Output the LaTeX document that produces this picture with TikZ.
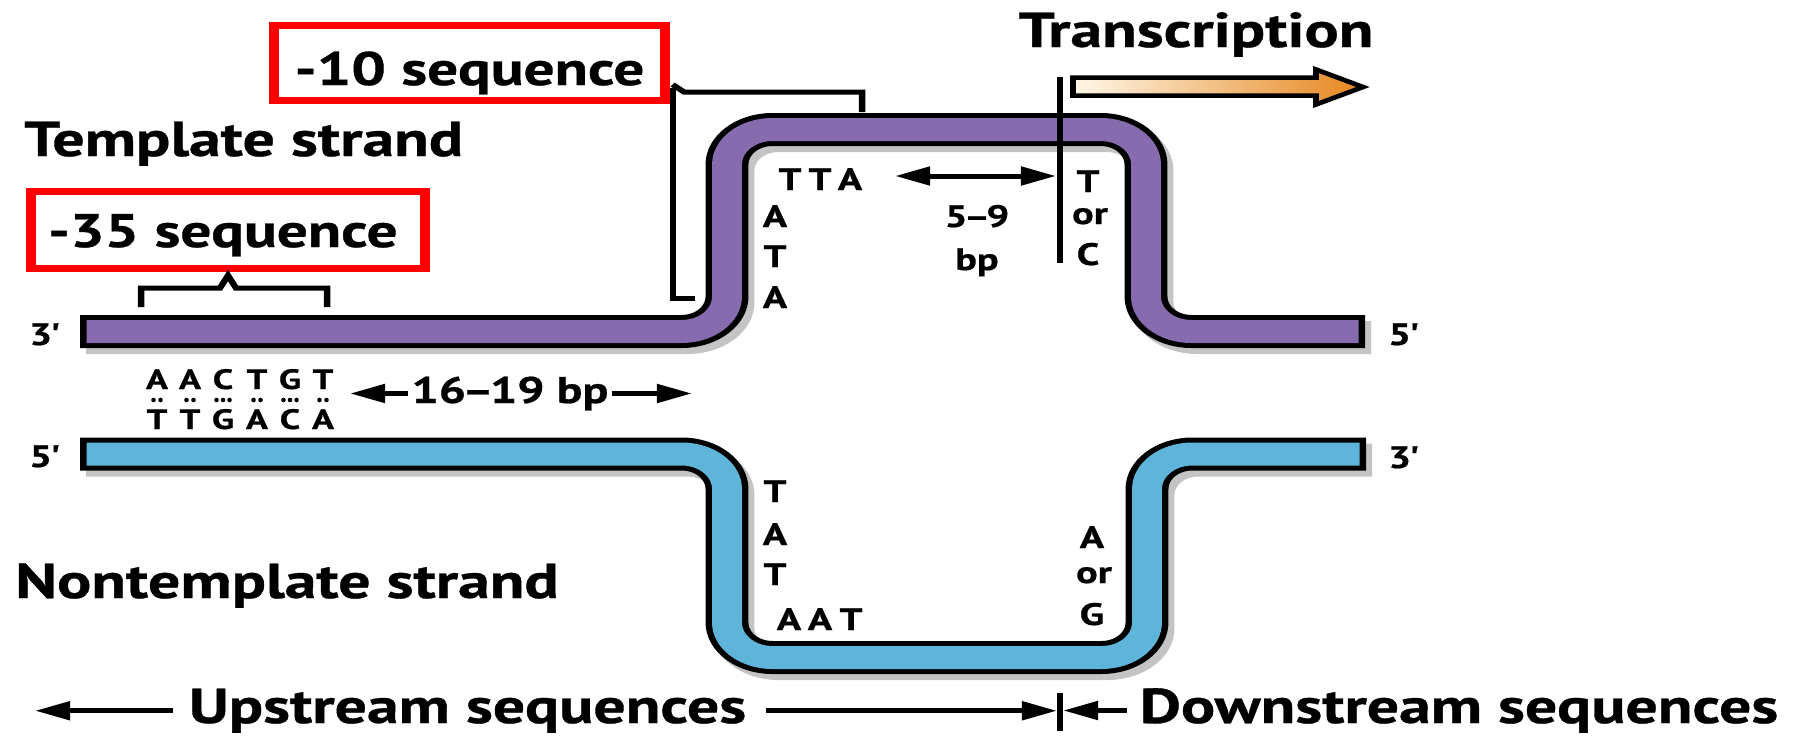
\documentclass[tikz,border=0pt]{standalone}
\usepackage{fontspec}
\setmainfont{PT Sans}[BoldFeatures={FakeBold=0.6}]
\usetikzlibrary{arrows.meta,calc}
\definecolor{strandpurple}{RGB}{134,107,174}
\definecolor{strandblue}{RGB}{94,181,217}
\definecolor{shadowgray}{RGB}{196,196,196}
\definecolor{arroworange}{RGB}{230,134,30}
\definecolor{arrowcream}{RGB}{255,247,232}
\definecolor{boxred}{RGB}{255,0,0}
\tikzset{
  lbl/.style={inner sep=0pt, font=\bfseries\fontsize{#1}{#1}\selectfont},
  headtext/.style={lbl=49},
  boxtext/.style={lbl=47},
  basetext/.style={lbl=31},
  pairtext/.style={lbl=28},
  redbox/.style={draw=boxred, line width=7pt, inner sep=0pt},
  bandshadow/.style={draw=shadowgray, line width=33pt, rounded corners=35pt},
  bandedge/.style={draw=black, line width=33pt, rounded corners=35pt},
  bandfill/.style={draw=#1, line width=23pt, rounded corners=35pt, shorten <=5pt, shorten >=5pt},
  bracketline/.style={draw=black, line width=5pt, line join=miter},
  pointer/.style={draw=black, line width=5pt, -{Triangle[length=27pt,width=18pt]}},
  twoway/.style={draw=black, line width=5pt, {Triangle[length=27pt,width=18pt]}-{Triangle[length=27pt,width=18pt]}},
}
\newcommand\ndash{\kern-3pt--\kern-3pt}
\newcommand\prm{\kern-1.5pt\textquotesingle}
\begin{document}
\begin{tikzpicture}[x=1pt,y=-1pt]
\fill[white] (0,0) rectangle (1794,736);
\useasboundingbox (0,0) rectangle (1794,736);
\begin{scope}[transform canvas={xscale=1.3}, xscale=0.769231]
% ---------- strands ----------
\draw[bandshadow] (86,337.5) -- (733,337.5) -- (733,135.5) -- (1152,135.5) -- (1152,337.5) -- (1371,337.5);
\draw[bandshadow] (86,460) -- (733,460) -- (733,663.5) -- (1153,663.5) -- (1153,460) -- (1372,460);
\draw[bandedge] (80,331.5) -- (727,331.5) -- (727,129.5) -- (1146,129.5) -- (1146,331.5) -- (1365,331.5);
\draw[bandedge] (80,454) -- (727,454) -- (727,657.5) -- (1147,657.5) -- (1147,454) -- (1366,454);
\draw[bandfill=strandpurple] (80,331.5) -- (727,331.5) -- (727,129.5) -- (1146,129.5) -- (1146,331.5) -- (1365,331.5);
\draw[bandfill=strandblue] (80,454) -- (727,454) -- (727,657.5) -- (1147,657.5) -- (1147,454) -- (1366,454);

% ---------- boxes and headings ----------
\node[boxtext, redbox, anchor=base, text height=60pt, text depth=15pt, minimum width=300.8pt] (b10) at (469.5,85) {-10 sequence};
\node[boxtext, redbox, anchor=base, text height=56pt, text depth=21pt, minimum width=303pt] (b35) at (228,247) {\kern-8pt-35 sequence};
\node[headtext, anchor=base] (transc) at (1196,47) {Transcription};
\node[headtext, anchor=base west] (tmpl) at (24,156) {Template strand};
\node[headtext, anchor=base west] (ntmpl) at (15,598) {Nontemplate strand};
\node[headtext, anchor=base] (up) at (467.5,723) {Upstream sequences};
\node[headtext, anchor=base] (down) at (1459,723) {Downstream sequences};

% ---------- brackets ----------
\coordinate (b35peak) at ($(b35.south)+(0,4)$);
\draw[bracketline] (141,307) -- (141,288) -- (220,288) -- (b35peak) -- (236,288) -- (327,288) -- (327,307);
\coordinate (b10tip) at ($(b10.east)+(3,22)$);
\draw[bracketline] (695,298) -- (673,298) -- (673,88);
\draw[bracketline] (b10tip) -- (684,92) -- (862,92) -- (862,112);

% ---------- transcription start and arrow ----------
\coordinate (tssT) at (1060,77);
\coordinate (tssB) at (1060,263);
\draw[line width=4pt] (tssT) -- (tssB);
\shadedraw[left color=arrowcream, right color=arroworange, draw=black, line width=4.5pt, line join=miter]
  (1073,77.5) -- (1316,77.5) -- (1316,69.5) -- (1363,87) -- (1316,104.5) -- (1316,95.5) -- (1073,95.5) -- cycle;

% ---------- end labels ----------
\node[basetext, anchor=base west] (e3a) at (29,345) {3\prm};
\node[basetext, anchor=base west] (e5a) at (1388,345) {5\prm};
\node[basetext, anchor=base west] (e5b) at (29,467) {5\prm};
\node[basetext, anchor=base west] (e3b) at (1388,468) {3\prm};

% ---------- -10 region letters ----------
\node[basetext, anchor=base] (tta1) at (790,190) {T};
\node[basetext, anchor=base] (tta2) at (820,190) {T};
\node[basetext, anchor=base] (tta3) at (850,190) {A};
\node[basetext, anchor=base] (ata1) at (775,227) {A};
\node[basetext, anchor=base] (ata2) at (775,267) {T};
\node[basetext, anchor=base] (ata3) at (775,308) {A};
\node[basetext, anchor=base] (tat1) at (775,502) {T};
\node[basetext, anchor=base] (tat2) at (775,545) {A};
\node[basetext, anchor=base] (tat3) at (775,585) {T};
\node[basetext, anchor=base] (aat1) at (789,630) {A};
\node[basetext, anchor=base] (aat2) at (820,630) {A};
\node[basetext, anchor=base] (aat3) at (851,630) {T};

% ---------- spacing labels ----------
\node[basetext, anchor=base] (n59) at (977,227) {5\ndash 9};
\node[basetext, anchor=base] (n59bp) at (977,270) {bp};
\coordinate (bpL) at (895,176);
\coordinate (bpR) at (1056,176);
\draw[twoway] (bpL) -- (bpR);

\node[basetext, anchor=base] (tc1) at (1088,192) {T};
\node[basetext, anchor=base] (tc2) at (1090,224) {or};
\node[basetext, anchor=base] (tc3) at (1088,265) {C};
\node[basetext, anchor=base] (ag1) at (1092,548) {A};
\node[basetext, anchor=base] (ag2) at (1094,583) {or};
\node[basetext, anchor=base] (ag3) at (1092,625) {G};

% ---------- -35 base pairs ----------
\foreach \x/\t/\b/\n [count=\i] in {157/A/T/2, 190/A/T/2, 223/C/G/3, 257/T/A/2, 290/G/C/3, 323/T/A/2}{
  \node[pairtext, anchor=base] (top\i) at (\x,389) {\t};
  \node[pairtext, anchor=base] (bot\i) at (\x,429) {\b};
  \ifnum\n=2
    \fill (\x-3.5,400) circle[radius=2.3pt] (\x+3.5,400) circle[radius=2.3pt];
  \else
    \fill (\x-6.5,400) circle[radius=2.3pt] (\x,400) circle[radius=2.3pt] (\x+6.5,400) circle[radius=2.3pt];
  \fi
}
\node[lbl=37, anchor=base] (n1619) at (510,403) {16\ndash 19 bp};
\coordinate (l1619) at (350,393);
\coordinate (r1619) at (692,393);
\draw[pointer] ([xshift=-3pt]n1619.west) -- (n1619.west -| l1619);
\draw[pointer] ([xshift=3pt]n1619.east) -- (n1619.east -| r1619);

% ---------- upstream / downstream ----------
\coordinate (upL) at (35,713);
\coordinate (upR) at (1057,713);
\coordinate (dnL) at (1063,713);
\coordinate (tickT) at (1060,693);
\coordinate (tickB) at (1060,731);
\draw[pointer] ([xshift=-16pt]up.west) -- (up.west -| upL);
\draw[pointer] ([xshift=20pt]up.east) -- (up.east -| upR);
\draw[pointer] ([xshift=-13pt]down.west) -- (down.west -| dnL);
\draw[line width=4pt] (tickT) -- (tickB);
\end{scope}
\end{tikzpicture}
\end{document}
